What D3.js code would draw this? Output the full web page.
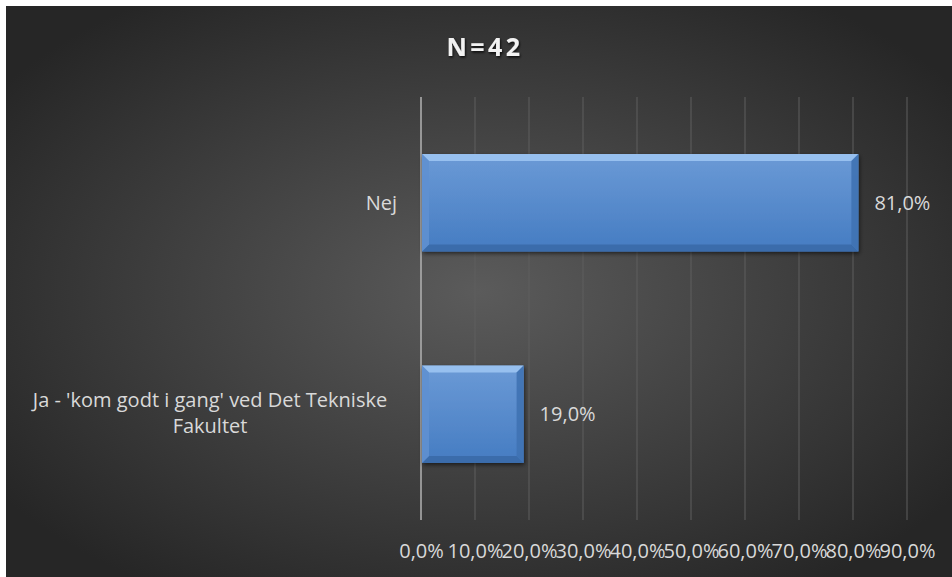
<!DOCTYPE html>
<html><head><meta charset="utf-8">
<script src="https://cdn.jsdelivr.net/npm/d3@7"></script>
<style>body{margin:0;background:#fff}svg{display:block}</style>
</head><body>
<script>
const categories = ["Nej", "Ja - 'kom godt i gang' ved Det Tekniske Fakultet"];
const values = [81.0, 19.0];
const tickValues = [0,10,20,30,40,50,60,70,80,90];
const title = "N=42";

const W = 952, H = 577;
const svg = d3.select("body").append("svg").attr("width", W).attr("height", H);
const defs = svg.append("defs");

const bg = defs.append("radialGradient").attr("id","bg").attr("cx","50%").attr("cy","50%").attr("r","62%");
bg.append("stop").attr("offset","0%").attr("stop-color","#5b5b5b");
bg.append("stop").attr("offset","100%").attr("stop-color","#262626");

const bar = defs.append("linearGradient").attr("id","barg").attr("x1",0).attr("y1",0).attr("x2",0).attr("y2",1);
bar.append("stop").attr("offset","0%").attr("stop-color","#6b9ad6");
bar.append("stop").attr("offset","100%").attr("stop-color","#457cc2");

const sh = defs.append("filter").attr("id","sh").attr("x","-10%").attr("y","-10%").attr("width","130%").attr("height","140%");
sh.append("feDropShadow").attr("dx",1).attr("dy",2).attr("stdDeviation",2).attr("flood-color","#000").attr("flood-opacity",0.6);

const tsh = defs.append("filter").attr("id","tsh");
tsh.append("feDropShadow").attr("dx",1).attr("dy",1.5).attr("stdDeviation",1).attr("flood-color","#000").attr("flood-opacity",0.8);

svg.append("rect").attr("x",6).attr("y",6).attr("width",W-6).attr("height",H-6).attr("fill","url(#bg)");

const x = d3.scaleLinear().domain([0,90]).range([421,907]);
const y = d3.scaleBand().domain(categories).range([97,520]).paddingInner(0.54).paddingOuter(0.27);

svg.append("g").selectAll("line").data(tickValues.slice(1)).join("line")
  .attr("x1",d=>x(d)).attr("x2",d=>x(d)).attr("y1",97).attr("y2",520)
  .attr("stroke","#5e5e5e").attr("stroke-width",1);

svg.append("line").attr("x1",x(0)).attr("x2",x(0)).attr("y1",97).attr("y2",520)
  .attr("stroke","#b3b3b3").attr("stroke-width",1.5);

const bw = 7;
const g = svg.append("g").selectAll("g").data(categories).join("g");
g.append("rect").attr("x",x(0)+1).attr("y",d=>y(d)).attr("width",(d,i)=>x(values[i])-x(0)-1)
  .attr("height",y.bandwidth()).attr("fill","url(#barg)").attr("filter","url(#sh)");
g.append("path").attr("d",(d,i)=>{const x0=x(0)+1,x1=x(values[i]),y0=y(d);
  return `M${x0},${y0}L${x1},${y0}L${x1-bw},${y0+bw}L${x0+bw},${y0+bw}Z`;}).attr("fill","#9cc4f2").attr("opacity",0.9);
g.append("path").attr("d",(d,i)=>{const x0=x(0)+1,x1=x(values[i]),y1=y(d)+y.bandwidth();
  return `M${x0},${y1}L${x1},${y1}L${x1-bw},${y1-bw}L${x0+bw},${y1-bw}Z`;}).attr("fill","#3a6aa8").attr("opacity",0.9);
g.append("path").attr("d",(d,i)=>{const x1=x(values[i]),y0=y(d),y1=y0+y.bandwidth();
  return `M${x1},${y0}L${x1},${y1}L${x1-bw},${y1-bw}L${x1-bw},${y0+bw}Z`;}).attr("fill","#3f72b3").attr("opacity",0.9);
g.append("path").attr("d",(d,i)=>{const x0=x(0)+1,y0=y(d),y1=y0+y.bandwidth();
  return `M${x0},${y0}L${x0},${y1}L${x0+bw},${y1-bw}L${x0+bw},${y0+bw}Z`;}).attr("fill","#5f90d0").attr("opacity",0.9);

const font = "'Open Sans', 'Noto Sans', sans-serif";
const fs = 20;
g.append("text").attr("x",(d,i)=>x(values[i])+16).attr("y",d=>y(d)+y.bandwidth()/2)
  .attr("dy","0.35em").attr("fill","#d9d9d9").attr("font-family",font).attr("font-size",fs)
  .text((d,i)=>values[i].toFixed(1).replace(".",",")+"%");

const lab = svg.append("g");
lab.append("text").attr("x",397).attr("y",y(categories[0])+y.bandwidth()/2).attr("dy","0.35em")
  .attr("text-anchor","end").attr("fill","#d9d9d9").attr("font-family",font).attr("font-size",fs).text(categories[0]);
const t2 = lab.append("text").attr("text-anchor","middle").attr("fill","#d9d9d9").attr("font-family",font).attr("font-size",fs);
const cy2 = y(categories[1])+y.bandwidth()/2;
t2.append("tspan").attr("x",210).attr("y",cy2-14).attr("dy","0.35em").text("Ja - 'kom godt i gang' ved Det Tekniske");
t2.append("tspan").attr("x",210).attr("y",cy2+12).attr("dy","0.35em").text("Fakultet");

const ax = svg.append("g").attr("transform","translate(0,551)")
  .call(d3.axisBottom(x).tickValues(tickValues).tickSize(0).tickPadding(0)
    .tickFormat(d=>d.toFixed(1).replace(".",",")+"%"));
ax.select(".domain").remove();
ax.selectAll("text").attr("fill","#d9d9d9").attr("font-family",font).attr("font-size",fs).attr("dy","0.35em").attr("y",0);

svg.append("text").attr("x",485).attr("y",47).attr("dy","0.35em").attr("text-anchor","middle")
  .attr("fill","#f2f2f2").attr("font-family",font).attr("font-weight","bold").attr("font-size",25)
  .attr("letter-spacing",3.5).attr("filter","url(#tsh)").text(title);
</script>
</body></html>
